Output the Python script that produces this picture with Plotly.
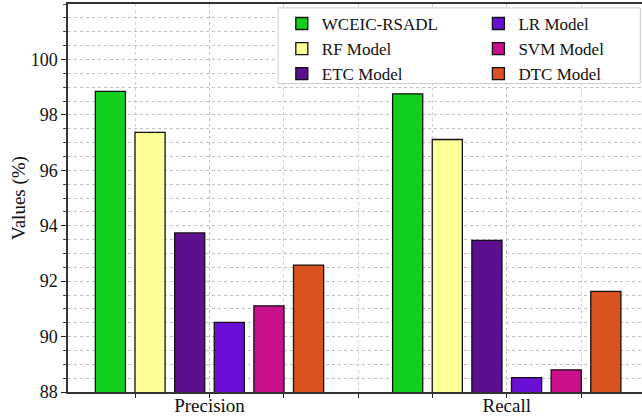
import plotly.graph_objects as go

categories = ["Precision", "Recall"]
category_pos = [1, 2]
models = ["WCEIC-RSADL", "RF Model", "ETC Model", "LR Model", "SVM Model", "DTC Model"]
wceic_rsadl = [98.85, 98.76]
rf_model = [97.37, 97.11]
etc_model = [93.74, 93.47]
lr_model = [90.51, 88.52]
svm_model = [91.11, 88.80]
dtc_model = [92.58, 91.63]
y_ticks = [88, 90, 92, 94, 96, 98, 100]

series = [wceic_rsadl, rf_model, etc_model, lr_model, svm_model, dtc_model]
colors = ["#12CF1E", "#FFFF99", "#5C0F8E", "#6A10D6", "#C9108A", "#D9521F"]
legend_ids = ["legend", "legend", "legend", "legend2", "legend2", "legend2"]

FONT = "Liberation Serif"

fig = go.Figure()
for name, vals, col, lg in zip(models, series, colors, legend_ids):
    fig.add_trace(go.Bar(
        x=category_pos, y=vals, name=name,
        marker=dict(color=col, line=dict(color="#111111", width=1.3)),
        legend=lg,
    ))

grid = dict(showgrid=True, gridcolor="#c0c0c0", griddash="dot", gridwidth=1)

fig.update_layout(
    width=642, height=416,
    margin=dict(l=68, r=0, t=4, b=24),
    paper_bgcolor="white", plot_bgcolor="white",
    barmode="group", bargap=0.2, bargroupgap=0.24,
    font=dict(family=FONT, size=18, color="#111111"),
    showlegend=True,
    legend=dict(x=0.3725, y=0.995, xanchor="left", yanchor="top",
                bgcolor="rgba(0,0,0,0)", borderwidth=0,
                font=dict(family=FONT, size=17, color="#111111"),
                tracegroupgap=0, itemwidth=30),
    legend2=dict(x=0.715, y=0.995, xanchor="left", yanchor="top",
                 bgcolor="rgba(0,0,0,0)", borderwidth=0,
                 font=dict(family=FONT, size=17, color="#111111"),
                 tracegroupgap=0, itemwidth=30),
    xaxis=dict(
        range=[0.524, 2.455],
        automargin=False,
        tickmode="array", tickvals=category_pos, ticktext=categories,
        ticks="outside", ticklen=4, tickcolor="#222",
        ticklabelstandoff=-9,
        showline=True, linecolor="#333", linewidth=2, mirror=True,
        tickfont=dict(family=FONT, size=19),
        zeroline=False,
        minor=dict(dtick=0.25, tick0=0, ticks="outside", ticklen=4,
                   tickcolor="#222", showgrid=True, gridcolor="#d0d0d0",
                   griddash="dot"),
        **grid,
    ),
    yaxis=dict(
        range=[88, 102],
        automargin=False,
        tickmode="array", tickvals=y_ticks,
        ticks="outside", ticklen=5, tickcolor="#222",
        showline=True, linecolor="#333", linewidth=1.5,
        tickfont=dict(family=FONT, size=18),
        zeroline=False,
        title=dict(text="Values (%)", font=dict(family=FONT, size=19), standoff=0),
        minor=dict(dtick=0.5, tick0=88, ticks="outside", ticklen=3,
                   tickcolor="#444", showgrid=True, gridcolor="#c0c0c0",
                   griddash="dot"),
        **grid,
    ),
    shapes=[dict(type="rect", xref="paper", yref="paper",
                 x0=0.366, x1=0.997, y0=0.795, y1=0.99,
                 fillcolor="white", line=dict(color="#cccccc", width=1),
                 layer="above")],
)

fig.write_html("out.html", config={"displayModeBar": False},
               post_script="document.body.style.margin='0';")
